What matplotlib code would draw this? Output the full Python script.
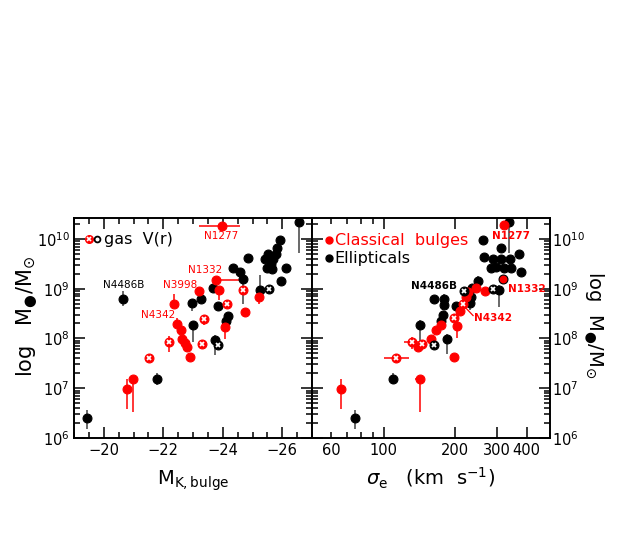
import numpy as np
import matplotlib
matplotlib.use('Agg')
import matplotlib.pyplot as plt
from matplotlib.ticker import (FixedLocator, FixedFormatter, MultipleLocator,
                               LogLocator, NullFormatter, LogFormatterMathtext)

RED = '#ff0000'
BLK = '#000000'

# ---------------- Left panel: M_K,bulge ----------------
# Ellipticals (filled black)
ellK_mk = [-19.44, -20.66, -21.80, -22.96, -23.01, -23.27, -23.66, -23.74, -23.85, -24.11,
           -24.19, -24.36, -24.58, -24.69, -24.84, -25.25, -25.42, -25.48, -25.53, -25.61,
           -25.64, -25.70, -25.79, -25.81, -25.92, -25.96, -26.11, -26.57]
ellK_logm = [6.41, 8.80, 7.18, 8.71, 8.28, 8.79, 9.01, 7.97, 8.66, 8.35,
             8.46, 9.41, 9.34, 9.19, 9.61, 8.97, 9.59, 9.42, 9.70, 9.49,
             9.39, 9.59, 9.70, 9.81, 9.97, 9.15, 9.42, 10.34]
ellK_elo = [0.22, 0.15, 0.12, 0.15, 0.35, 0, 0, 0.30, 0.08, 0.10,
            0, 0, 0, 0.50, 0, 0.10, 0, 0, 0, 0,
            0, 0, 0, 0, 0, 0.10, 0, 0.62]
ellK_ehi = [0.15, 0.15, 0.12, 0, 0, 0, 0, 0.10, 0, 0,
            0, 0, 0, 0, 0, 0.30, 0, 0, 0, 0,
            0, 0, 0, 0, 0, 0, 0, 0]

# Classical bulges (filled red)
bulK_mk = [-23.96, -23.77, -23.21, -23.89, -22.36, -24.08, -22.47, -22.60, -22.64, -22.73,
           -22.79, -22.90, -25.23, -24.75, -20.79, -20.98]
bulK_logm = [10.25, 9.18, 8.95, 8.97, 8.69, 8.23, 8.30, 8.17, 7.98, 7.90,
             7.83, 7.63, 8.84, 8.53, 6.98, 7.18]
bulK_elo = [0, 0, 0, 0.20, 0.05, 0.25, 0, 0, 0, 0, 0, 0, 0.15, 0.10, 0.40, 0.65]
bulK_ehi = [0, 0, 0, 0, 0.20, 0.10, 0.12, 0, 0, 0, 0, 0, 0, 0, 0.20, 0]
bulK_xminus = [0.62, 0.81, 0, 0, 0, 0, 0, 0, 0, 0, 0, 0, 0, 0, 0, 0]
bulK_xplus = [0.76, 0, 0, 0, 0, 0, 0, 0, 0, 0, 0, 0, 0, 0, 0, 0]

# gas V(r) (open)
bulgasK_mk = [-21.51, -22.18, -23.29, -23.37, -24.13, -24.67]
bulgasK_logm = [7.61, 7.92, 7.89, 8.40, 8.69, 8.97]
bulgasK_elo = [0, 0.20, 0, 0.12, 0, 0]
bulgasK_ehi = [0, 0.12, 0, 0, 0, 0]
ellgasK_mk = [-23.85, -25.55]
ellgasK_logm = [7.86, 9.00]

# ---------------- Right panel: sigma_e ----------------
ellS_sig = [75.6, 109.4, 142, 185, 163, 180, 180, 178, 175, 201,
            232, 234, 236, 250, 262, 265, 288, 312, 339, 313,
            370, 284, 296, 320, 344, 377, 306, 336]
ellS_logm = [6.41, 7.18, 8.28, 7.98, 8.79, 8.79, 8.68, 8.48, 8.35, 8.66,
             8.72, 8.84, 9.02, 9.15, 9.97, 9.63, 9.59, 9.59, 9.59, 9.81,
             9.70, 9.41, 9.43, 9.41, 9.42, 9.34, 8.98, 10.34]
ellS_elo = [0.22, 0.10, 0.33, 0.30, 0, 0, 0, 0, 0, 0,
            0.15, 0, 0, 0, 0, 0, 0, 0, 0, 0,
            0, 0, 0, 0, 0, 0, 0.35, 0.62]
ellS_ehi = [0.15, 0.12, 0.10, 0.10, 0, 0.10, 0, 0, 0, 0,
            0.10, 0, 0, 0.10, 0, 0, 0, 0, 0, 0,
            0, 0, 0, 0, 0, 0, 0.10, 0]

bulS_sig = [65.9, 142, 198, 203, 165.6, 158.5, 139.3, 175, 209.5, 223,
            227, 246, 267, 318, 321]
bulS_logm = [6.98, 7.19, 7.63, 8.25, 8.17, 7.99, 7.83, 8.28, 8.55, 8.84,
             8.94, 9.02, 8.95, 9.19, 10.27]
bulS_elo = [0.40, 0.67, 0, 0.25, 0, 0, 0, 0, 0, 0, 0, 0, 0, 0, 0]
bulS_ehi = [0.20, 0.05, 0, 0.10, 0, 0, 0, 0, 0, 0, 0, 0, 0, 0, 0]
bulS_xminus = [0, 6, 0, 0, 0, 0, 0, 0, 0, 0, 0, 0, 0, 0, 0]
bulS_xplus = [0, 6, 0, 0, 0, 0, 0, 0, 0, 0, 0, 0, 0, 0, 0]

bulgasS_sig = [112.7, 132, 145.6, 198, 215]
bulgasS_logm = [7.60, 7.93, 7.88, 8.41, 8.69]
bulgasS_elo = [0, 0.15, 0, 0, 0]
bulgasS_ehi = [0, 0.10, 0, 0, 0]
bulgasS_xminus = [12.7, 10, 0, 0, 0]
bulgasS_xplus = [15.3, 13, 0, 0, 0]
ellgasS_sig = [163, 218, 288]
ellgasS_logm = [7.87, 8.95, 9.00]

MS = 6.4


def draw(ax, x, logm, color, elo=None, ehi=None, xm=None, xp=None,
         gas=False, ecolor=None, mec=None):
    x = np.asarray(x, float)
    lm = np.asarray(logm, float)
    y = 10 ** lm
    n = len(x)
    elo = np.zeros(n) if elo is None else np.asarray(elo, float)
    ehi = np.zeros(n) if ehi is None else np.asarray(ehi, float)
    xm = np.zeros(n) if xm is None else np.asarray(xm, float)
    xp = np.zeros(n) if xp is None else np.asarray(xp, float)
    yerr = np.vstack([y - 10 ** (lm - elo), 10 ** (lm + ehi) - y])
    xerr = np.vstack([xm, xp])
    ec = ecolor if ecolor else color
    ax.errorbar(x, y, yerr=yerr, xerr=xerr, fmt='none', ecolor=ec,
                elinewidth=1.1, capsize=0, zorder=2)
    ax.plot(x, y, 'o', color=color, ms=MS, mec=mec if mec else color,
            mew=0.8, zorder=3, ls='none')
    if gas:
        ax.plot(x, y, 'x', color='white', ms=3.0, mew=1.3, zorder=4, ls='none')


fig = plt.figure(figsize=(6.41, 5.46), dpi=100)
ax1 = fig.add_axes([74 / 641, 1 - 438 / 546, 238 / 641, 220 / 546])
ax2 = fig.add_axes([312 / 641, 1 - 438 / 546, 237.7 / 641, 220 / 546])

for ax in (ax1, ax2):
    ax.set_yscale('log')
    ax.set_ylim(1e6, 10 ** 10.42)
    ax.yaxis.set_major_locator(LogLocator(base=10, numticks=10))
    ax.yaxis.set_minor_locator(LogLocator(base=10, subs=np.arange(2, 10), numticks=10))
    ax.yaxis.set_minor_formatter(NullFormatter())
    ax.yaxis.set_major_formatter(LogFormatterMathtext())
    ax.tick_params(which='both', direction='in', top=True, right=True, left=True,
                   bottom=True, width=1.1, labelsize=10.5)
    ax.tick_params(which='major', length=8)
    ax.tick_params(which='minor', length=4)
    for s in ax.spines.values():
        s.set_linewidth(1.4)

# Left panel
ax1.set_xlim(-19, -27)
ax1.xaxis.set_major_locator(FixedLocator([-20, -22, -24, -26]))
ax1.xaxis.set_major_formatter(FixedFormatter(['\u221220', '\u221222', '\u221224', '\u221226']))
ax1.xaxis.set_minor_locator(MultipleLocator(0.5))
ax1.tick_params(axis='y', which='major', pad=3)

draw(ax1, ellK_mk, ellK_logm, BLK, ellK_elo, ellK_ehi, ecolor='0.25')
draw(ax1, bulK_mk, bulK_logm, RED, bulK_elo, bulK_ehi, bulK_xminus, bulK_xplus)
draw(ax1, bulgasK_mk, bulgasK_logm, RED, bulgasK_elo, bulgasK_ehi, gas=True)
draw(ax1, ellgasK_mk, ellgasK_logm, BLK, gas=True)

ax1.text(-20.66, 10 ** 9.07, 'N4486B', color=BLK, fontsize=7.5, ha='center', va='center')
ax1.text(-21.83, 10 ** 8.48, 'N4342', color=RED, fontsize=7.5, ha='center', va='center')
ax1.text(-22.57, 10 ** 9.08, 'N3998', color=RED, fontsize=7.5, ha='center', va='center')
ax1.text(-23.40, 10 ** 9.38, 'N1332', color=RED, fontsize=7.5, ha='center', va='center')
ax1.text(-23.93, 10 ** 10.05, 'N1277', color=RED, fontsize=7.5, ha='center', va='center')

# legend left
ax1.plot([-19.51], [10 ** 9.99], 'o', color=RED, ms=5.5, zorder=3)
ax1.plot([-19.51], [10 ** 9.99], 'x', color='white', ms=2.6, mew=1.2, zorder=4)
ax1.plot([-19.78], [10 ** 9.99], 'o', mfc='white', mec=BLK, ms=4.2, mew=1.3, zorder=3)
ax1.text(-20.02, 10 ** 9.99, 'gas  V(r)', color=BLK, fontsize=11.5, ha='left', va='center')

ax1.set_xlabel(r'M$_{\rm K,bulge}$', fontsize=14, labelpad=8)

# Right panel
ax2.set_xscale('log')
ax2.set_xlim(50, 500)
ax2.xaxis.set_major_locator(FixedLocator([100, 200, 300, 400]))
ax2.xaxis.set_major_formatter(FixedFormatter(['100', '200', '300', '400']))
ax2.xaxis.set_minor_locator(FixedLocator([50, 60, 70, 80, 90, 500]))
ax2.xaxis.set_minor_formatter(FixedFormatter(['', '60', '', '', '', '']))
ax2.tick_params(axis='x', which='minor', labelsize=10.5)
ax2.tick_params(axis='y', which='both', labelleft=False, labelright=True)
ax2.tick_params(axis='y', which='major', pad=2)

draw(ax2, ellS_sig, ellS_logm, BLK, ellS_elo, ellS_ehi, ecolor='0.25')
draw(ax2, bulS_sig[:-2], bulS_logm[:-2], RED, bulS_elo[:-2], bulS_ehi[:-2],
     bulS_xminus[:-2], bulS_xplus[:-2])
draw(ax2, bulS_sig[-2:-1], bulS_logm[-2:-1], RED, mec=BLK)
draw(ax2, bulS_sig[-1:], bulS_logm[-1:], RED)
draw(ax2, bulgasS_sig, bulgasS_logm, RED, bulgasS_elo, bulgasS_ehi,
     bulgasS_xminus, bulgasS_xplus, gas=True)
draw(ax2, ellgasS_sig, ellgasS_logm, BLK, gas=True)

ax2.text(163, 10 ** 9.06, 'N4486B', color=BLK, fontsize=7.5, ha='center', va='center',
         fontweight='bold')
ax2.text(344.6, 10 ** 10.05, 'N1277', color=RED, fontsize=7.5, ha='center', va='center',
         fontweight='bold')
ax2.text(333, 10 ** 9.0, 'N1332', color=RED, fontsize=7.5, ha='left', va='center',
         fontweight='bold')
ax2.text(240, 10 ** 8.41, 'N4342', color=RED, fontsize=7.5, ha='left', va='center',
         fontweight='bold')
ax2.plot([217, 238], [10 ** 8.66, 10 ** 8.46], color=RED, lw=0.9, zorder=2)

# legend right
ax2.plot([58.9], [10 ** 9.97], 'o', color=RED, ms=5, zorder=3)
ax2.text(62.4, 10 ** 9.97, 'Classical  bulges', color=RED, fontsize=11.5, ha='left',
         va='center')
ax2.plot([58.9], [10 ** 9.61], 'o', color=BLK, ms=5, zorder=3)
ax2.text(62.4, 10 ** 9.61, 'Ellipticals', color=BLK, fontsize=11.5, ha='left',
         va='center')

ax2.set_xlabel(r'$\sigma_{\rm e}$   (km  s$^{-1}$)', fontsize=14, labelpad=6)

# y-axis titles
fig.text(27 / 641, 1 - 316 / 546, r'log   M$_{●}$/M$_{\odot}$', fontsize=15,
         rotation=90, ha='center', va='center')
fig.text(594 / 641, 1 - 325 / 546, r'log  M$_{●}$/M$_{\odot}$', fontsize=14,
         rotation=270, ha='center', va='center')

fig.savefig('out.png', dpi=100)
